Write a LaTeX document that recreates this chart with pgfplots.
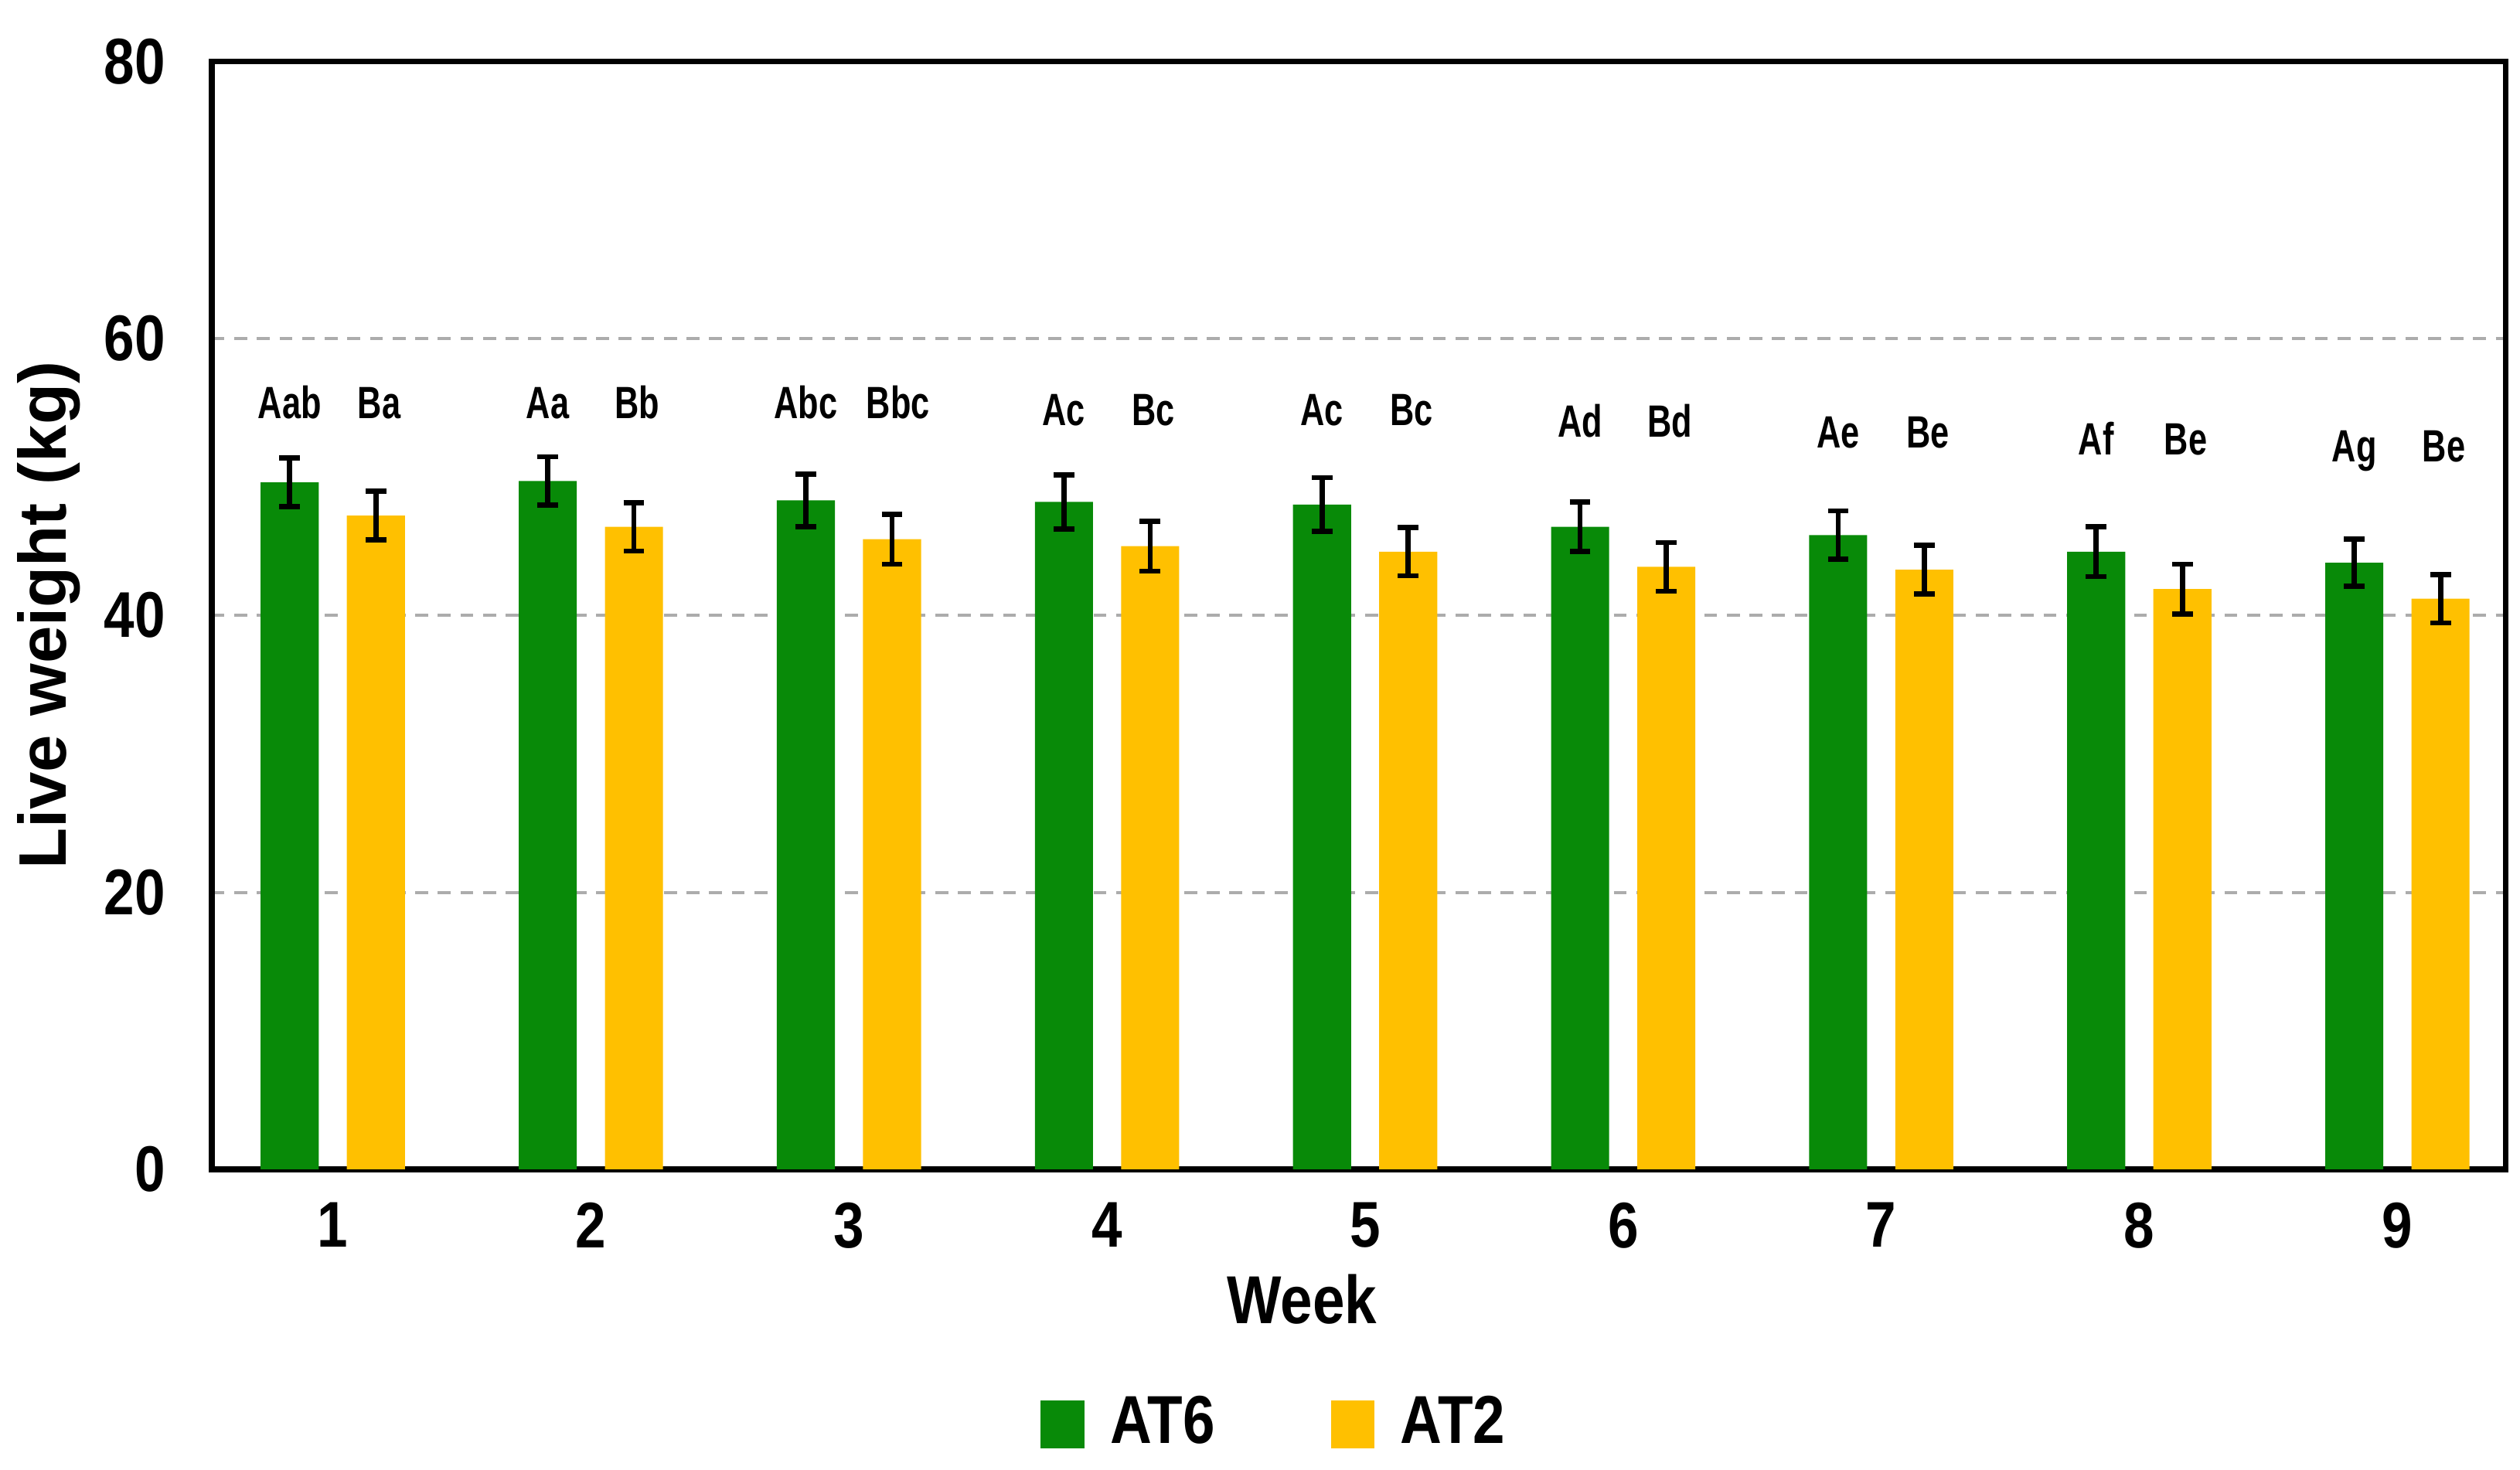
\documentclass[border=0pt]{standalone}
\usepackage{fontspec}
\setmainfont{Liberation Sans}[FakeStretch=0.85]
\newfontfamily\ylabfont{Liberation Sans}
\newfontfamily\labfont{Liberation Sans}[FakeStretch=0.74]
\usepackage{pgfplots}
\pgfplotsset{compat=1.18}
\usepackage{pgfplotstable}
\definecolor{cgreen}{RGB}{8,138,8}
\definecolor{cyellow}{RGB}{255,192,0}

\pgfplotstableread{
week y err
1 49.6 1.75
2 49.7 1.75
3 48.3 1.90
4 48.2 1.95
5 48.0 1.95
6 46.4 1.80
7 45.8 1.75
8 44.6 1.80
9 43.8 1.70
}\atsix

\pgfplotstableread{
week y err
1 47.2 1.75
2 46.4 1.75
3 45.5 1.80
4 45.0 1.80
5 44.6 1.75
6 43.5 1.75
7 43.3 1.75
8 41.9 1.80
9 41.2 1.75
}\attwo

\pgfplotstableread{
x y lab
0.833 54.2 Aab
1.180 54.2 Ba
1.833 54.2 Aa
2.180 54.2 Bb
2.833 54.2 Abc
3.190 54.2 Bbc
3.833 53.7 Ac
4.180 53.7 Bc
4.833 53.7 Ac
5.180 53.7 Bc
5.833 52.9 Ad
6.180 52.9 Bd
6.833 52.1 Ae
7.180 52.1 Be
7.833 51.6 Af
8.180 51.6 Be
8.833 51.1 Ag
9.180 51.1 Be
}\labels

\begin{document}
\begin{tikzpicture}
\useasboundingbox (-32.75pt,-46.5pt) rectangle (357.25pt,181pt);
\begin{axis}[
  at={(0pt,0pt)}, anchor=south west,
  width=355pt, height=171.5pt, scale only axis,
  ybar, bar width=0.225,
  xmin=0.5305, xmax=9.419, ymin=0, ymax=80,
  xtick={1,...,9}, ytick={0,20,...,80},
  major tick length=0pt,
  ymajorgrids,
  major grid style={gray!65, line width=0.5pt, dash pattern=on 2pt off 1.5pt},
  axis line style={black, line width=0.9pt},
  /pgf/number format/assume math mode=true,
  tick label style={font=\bfseries\fontsize{10}{12}\selectfont, inner sep=0pt},
  yticklabel style={anchor=east, xshift=-7pt},
  xticklabel style={anchor=north, yshift=-5pt},
  xlabel={Week},
  xlabel style={at={(axis description cs:0.4754,0)}, anchor=north, yshift=-16pt, inner sep=0pt, font=\bfseries\fontsize{10.5}{12}\selectfont},
  ylabel={Live weight (kg)},
  ylabel style={at={(axis description cs:-0.0711,0.5)}, anchor=center, inner sep=0pt, font=\ylabfont\bfseries\fontsize{10.4}{12}\selectfont},
  legend style={at={(0.4655,-0.2303)}, anchor=center, draw=none, fill=none,
    legend columns=-1, font=\bfseries\fontsize{10.5}{12}\selectfont,
    /tikz/every even column/.append style={column sep=16pt},
    /tikz/every odd column/.append style={column sep=2pt}},
  legend image code/.code={\path[#1, draw=none] (0pt,-3.75pt) rectangle (6.75pt,3.75pt);},
]
\addplot[fill=cgreen, draw=none, bar shift=-0.167,
  error bars/.cd, y dir=both, y explicit,
  error bar style={black, line width=0.8pt},
  error mark options={rotate=90, mark size=1.6pt, line width=0.8pt, black}]
  table[x=week, y=y, y error=err] {\atsix};
\addlegendentry{AT6}
\addplot[fill=cyellow, draw=none, bar shift=0.167,
  error bars/.cd, y dir=both, y explicit,
  error bar style={black, line width=0.8pt},
  error mark options={rotate=90, mark size=1.6pt, line width=0.8pt, black}]
  table[x=week, y=y, y error=err] {\attwo};
\addlegendentry{AT2}
\addplot[sharp plot, draw=none, mark=none, forget plot,
  nodes near coords, point meta=explicit symbolic,
  every node near coord/.style={anchor=base, inner sep=0pt, font=\labfont\bfseries\fontsize{7}{8}\selectfont}]
  table[x=x, y=y, meta=lab] {\labels};
\end{axis}
\end{tikzpicture}
\end{document}
